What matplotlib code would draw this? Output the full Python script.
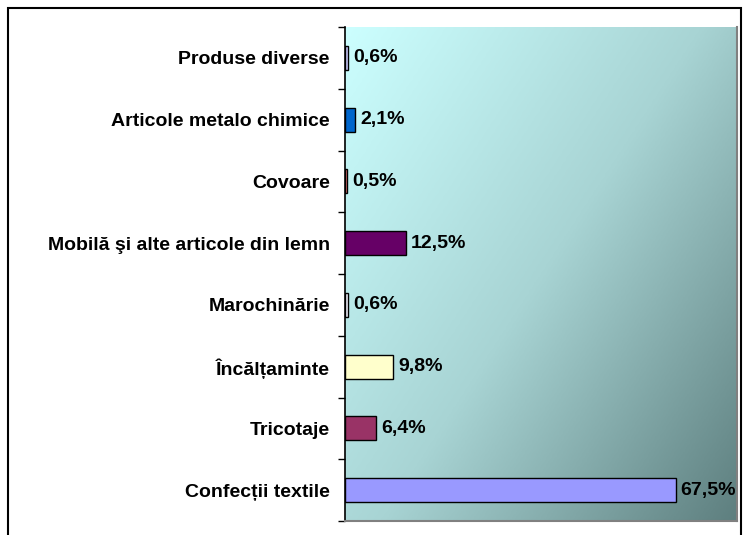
import numpy as np
import matplotlib
matplotlib.use("Agg")
import matplotlib.pyplot as plt
from matplotlib.patches import Rectangle
from matplotlib.colors import LinearSegmentedColormap

categories = [
    "Confecții textile",
    "Tricotaje",
    "Încălțaminte",
    "Marochinărie",
    "Mobilă şi alte articole din lemn",
    "Covoare",
    "Articole metalo chimice",
    "Produse diverse",
]
values = [67.5, 6.4, 9.8, 0.6, 12.5, 0.5, 2.1, 0.6]
labels = ["67,5%", "6,4%", "9,8%", "0,6%", "12,5%", "0,5%", "2,1%", "0,6%"]
bar_colors = ["#9999FF", "#993366", "#FFFFCC", "#F4F4FF", "#660066",
              "#FF8080", "#0066CC", "#CCCCFF"]

plt.rcParams["font.family"] = ["Liberation Sans", "DejaVu Sans"]

fig = plt.figure(figsize=(7.45, 5.35), dpi=100)
fig.patches.append(Rectangle((8 / 745, -0.01), 733 / 745, 1 - 8 / 535 + 0.01,
                             transform=fig.transFigure, fill=False,
                             edgecolor="black", linewidth=1.5))

ax = fig.add_axes([345 / 745, 1 - 521 / 535, 392 / 745, 494 / 535])

# diagonal gradient background
cmap = LinearSegmentedColormap.from_list("bg", ["#CCFFFF", "#A8D4D4", "#5E7F7F"])
xx, yy = np.meshgrid(np.linspace(0, 1, 300), np.linspace(1, 0, 300))
grad = (xx * 0.55 + (1 - yy) * 0.45)
ax.imshow(grad, cmap=cmap, extent=[0, 1, 0, 1], transform=ax.transAxes,
          aspect="auto", zorder=0, vmin=0, vmax=1)

y = np.arange(len(categories))
ax.barh(y, values, height=0.39, color=bar_colors, edgecolor="black",
        linewidth=1.0, zorder=2)
for yi, v, lab in zip(y, values, labels):
    ax.text(v + 1.0, yi, lab, va="center", ha="left", fontsize=14,
            fontweight="bold", zorder=3)

ax.set_xlim(0, 80)
ax.set_ylim(-0.5, len(categories) - 0.5)
ax.set_yticks(y)
ax.set_yticklabels(categories, fontsize=14, fontweight="bold")
ax.tick_params(axis="y", which="major", length=0, pad=11)
ax.set_yticks(np.arange(-0.5, len(categories)), minor=True)
ax.tick_params(axis="y", which="minor", length=5, width=1, direction="out")
ax.set_xticks([])

ax.spines["top"].set_visible(False)
ax.spines["left"].set_color("black")
ax.spines["left"].set_linewidth(1.2)
for s in ["right", "bottom"]:
    ax.spines[s].set_color("#808080")
    ax.spines[s].set_linewidth(1.5)

fig.savefig("out.png", dpi=100)
